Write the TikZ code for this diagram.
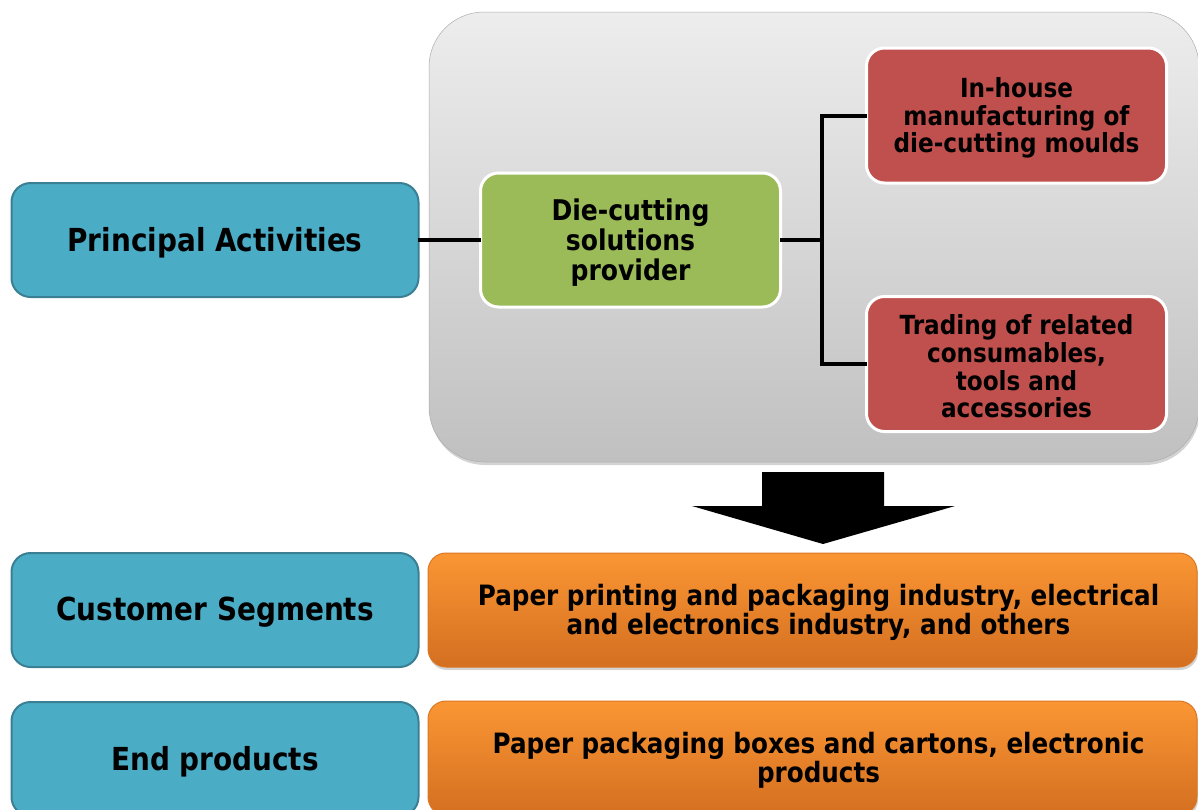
\documentclass[tikz,border=0pt]{standalone}
\usepackage{fontspec}
\setmainfont{DejaVu Sans}[FakeStretch=0.88]
\usetikzlibrary{shadows}

\definecolor{tealfill}{HTML}{4BACC6}
\definecolor{tealedge}{HTML}{3A7F93}
\definecolor{greenfill}{HTML}{9BBB59}
\definecolor{redfill}{HTML}{C0504D}
\definecolor{orangetop}{HTML}{FB9634}
\definecolor{orangebot}{HTML}{D36F20}
\definecolor{panetop}{HTML}{EDEDED}
\definecolor{panebot}{HTML}{C0C0C0}

\tikzset{
  % box text sits a little below the geometric centre of each box
  labelbox/.style={draw=tealedge, line width=2pt, fill=tealfill, rounded corners=19pt,
    minimum width=407pt, minimum height=114pt, inner sep=0pt,
    label={[font=\bfseries\fontsize{31.7}{33}\selectfont, align=center, inner sep=0pt, yshift=-2.5pt]center:{#1}}},
  solutionbox/.style={draw=white, line width=3pt, fill=greenfill, rounded corners=18pt,
    minimum width=300pt, minimum height=134pt, inner sep=0pt,
    label={[font=\bfseries\fontsize{28.5}{30}\selectfont, align=center, inner sep=0pt, yshift=-2.5pt]center:{#1}}},
  activitybox/.style={draw=white, line width=3pt, fill=redfill, rounded corners=18pt,
    minimum width=300pt, minimum height=135pt, inner sep=0pt,
    label={[font=\bfseries\fontsize{26.3}{27.6}\selectfont, align=center, inner sep=0pt, yshift=-2.5pt]center:{#1}}},
  orangebox/.style={draw=orangebot!80!orangetop, line width=1pt, top color=orangetop, bottom color=orangebot,
    rounded corners=18pt, minimum width=769pt, minimum height=114pt, inner sep=0pt,
    drop shadow={shadow xshift=1pt, shadow yshift=-3pt, opacity=0.35},
    label={[font=\bfseries\fontsize{28}{29}\selectfont, align=center, inner sep=0pt,
      xshift=6pt, yshift=-2.5pt]center:{#1}}},
  link/.style={line width=4pt, line cap=rect},
}

\begin{document}
\begin{tikzpicture}[x=1pt, y=-1pt]
\useasboundingbox (0,0) rectangle (1198,809);
\clip (0,0) rectangle (1198,809);

% grey panel holding the activities
\node (pane) [top color=panetop, bottom color=panebot, draw=panebot!90!black, line width=0.5pt,
  rounded corners=55pt, minimum width=770pt, minimum height=450pt, inner sep=0pt,
  drop shadow={shadow xshift=1pt, shadow yshift=-3pt, opacity=0.35}] at (814,237) {};

% left-hand labels
\node (pa) [labelbox={Principal Activities}] at (215,240) {};
\node (cs) [labelbox={Customer Segments}] at (215,610) {};
\node (ep) [labelbox={End products}] at (215,759) {};

% activities
\node (dc) [solutionbox={Die-cutting\\solutions\\provider}] at (630.5,240) {};
\node (mm) [activitybox={In-house\\manufacturing of\\die-cutting moulds}] at (1016.5,115.5) {};
\node (tr) [activitybox={Trading of related\\consumables,\\tools and\\accessories}] at (1016.5,364) {};

% connectors
\coordinate (fork) at (822,240);
\draw[link] (pa.east) -- (dc.west);
\draw[link] (dc.east) -- (fork);
\draw[link] (mm.west) -| (fork) |- (tr.west);

% downward block arrow
\fill[black] (762,472) -- (884,472) -- (884,506) -- (955,506) -- (823,544)
  -- (692,506) -- (762,506) -- cycle;

% customer segments and end products
\node (seg) [orangebox={Paper printing and packaging industry, electrical\\and electronics industry, and others}] at (812.5,610) {};
\node (prod) [orangebox={Paper packaging boxes and cartons, electronic\\products}] at (812.5,758) {};
\end{tikzpicture}
\end{document}
